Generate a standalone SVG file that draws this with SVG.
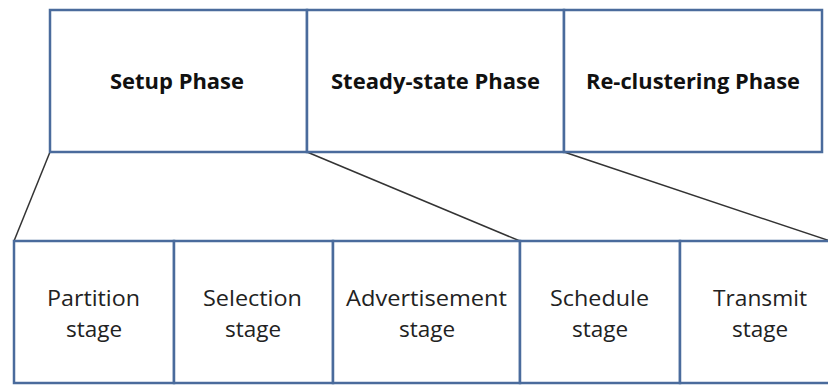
<svg xmlns="http://www.w3.org/2000/svg" width="828" height="385" viewBox="0 0 828 385">
<style>
.box{fill:#fff;stroke:#4a6b9c;stroke-width:2.5}
.conn{stroke:#333;stroke-width:1.5;fill:none}
.ph{font-family:"Open Sans","Liberation Sans",sans-serif;font-weight:bold;font-size:21px;fill:#111;text-anchor:middle}
.st{font-family:"Open Sans","Liberation Sans",sans-serif;font-size:22.5px;fill:#222;text-anchor:middle}
</style>
<rect width="828" height="385" fill="#fff"/>
<g id="connectors">
<line class="conn" x1="50" y1="152" x2="14" y2="241"/>
<line class="conn" x1="307" y1="152" x2="520" y2="241"/>
<line class="conn" x1="564" y1="152" x2="830" y2="241"/>
</g>
<g id="setup"><rect class="box" x="50" y="10" width="257" height="142"/><text class="ph" x="177" y="89" textLength="134" lengthAdjust="spacingAndGlyphs">Setup Phase</text></g>
<g id="steady"><rect class="box" x="307" y="10" width="257" height="142"/><text class="ph" x="435.5" y="89" textLength="209" lengthAdjust="spacingAndGlyphs">Steady-state Phase</text></g>
<g id="recluster"><rect class="box" x="564" y="10" width="258" height="142"/><text class="ph" x="693" y="89" textLength="214" lengthAdjust="spacingAndGlyphs">Re-clustering Phase</text></g>
<g id="partition"><rect class="box" x="14" y="241" width="160" height="142"/><text class="st" x="93.5" y="306" textLength="93" lengthAdjust="spacingAndGlyphs">Partition</text><text class="st" x="94" y="337">stage</text></g>
<g id="selection"><rect class="box" x="174" y="241" width="159" height="142"/><text class="st" x="252.5" y="306" textLength="99" lengthAdjust="spacingAndGlyphs">Selection</text><text class="st" x="253" y="337">stage</text></g>
<g id="advertisement"><rect class="box" x="333" y="241" width="187" height="142"/><text class="st" x="426.5" y="306" textLength="161" lengthAdjust="spacingAndGlyphs">Advertisement</text><text class="st" x="427" y="337">stage</text></g>
<g id="schedule"><rect class="box" x="520" y="241" width="160" height="142"/><text class="st" x="599.5" y="306" textLength="99" lengthAdjust="spacingAndGlyphs">Schedule</text><text class="st" x="600" y="337">stage</text></g>
<g id="transmit"><rect class="box" x="680" y="241" width="160" height="142"/><text class="st" x="760" y="306" textLength="94" lengthAdjust="spacingAndGlyphs">Transmit</text><text class="st" x="760" y="337">stage</text></g>
</svg>
